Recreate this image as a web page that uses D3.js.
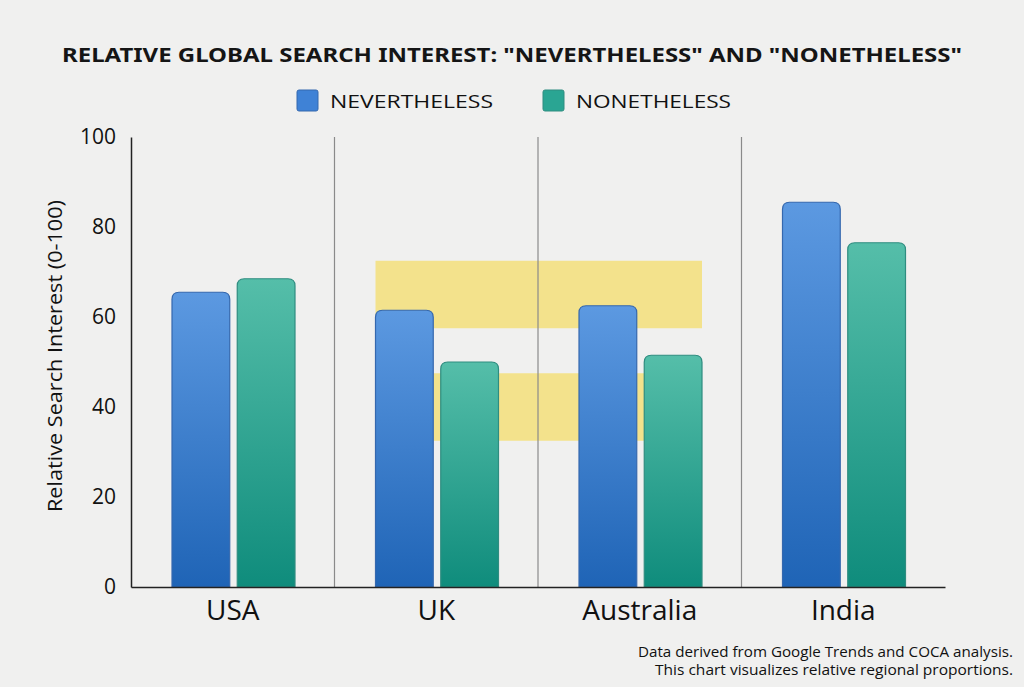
<!DOCTYPE html>
<html>
<head>
<meta charset="utf-8">
<script src="https://cdn.jsdelivr.net/npm/d3@7"></script>
<style>
  html, body { margin: 0; padding: 0; background: #f0f0ef; }
  svg { display: block; }
</style>
</head>
<body>
<div id="chart"></div>
<script>
// data
var regions = ["USA", "UK", "Australia", "India"];
var series = ["NEVERTHELESS", "NONETHELESS"];
var nevertheless = [65.5, 61.5, 62.5, 85.5];
var nonetheless = [68.5, 50, 51.5, 76.5];
var yTicks = [0, 20, 40, 60, 80, 100];
// highlight bands: [low, high] in search-interest units
var highlightBands = [[57.5, 72.5], [32.5, 47.5]];

var width = 1024, height = 687;
var margin = {left: 131, right: 79, top: 137, bottom: 100};

var svg = d3.select("#chart").append("svg")
    .attr("width", width)
    .attr("height", height)
    .style("background", "#f0f0ef");

var defs = svg.append("defs");
function grad(id, top, bottom) {
  var g = defs.append("linearGradient").attr("id", id)
      .attr("x1", 0).attr("y1", 0).attr("x2", 0).attr("y2", 1);
  g.append("stop").attr("offset", "0%").attr("stop-color", top);
  g.append("stop").attr("offset", "100%").attr("stop-color", bottom);
}
grad("gBlue", "#5c99e1", "#1f64b6");
grad("gTeal", "#55bea9", "#0f8c7c");

var fills = {"NEVERTHELESS": "url(#gBlue)", "NONETHELESS": "url(#gTeal)"};
var strokes = {"NEVERTHELESS": "#3568ae", "NONETHELESS": "#2f8d80"};
var swatch = {"NEVERTHELESS": "#3f82d6", "NONETHELESS": "#2aa593"};

var x = d3.scaleBand().domain(regions).range([margin.left, width - margin.right]).padding(0);
var xSub = d3.scaleBand().domain(series).range([41, 164]).paddingInner(0.115);
var y = d3.scaleLinear().domain([0, 100]).range([height - margin.bottom, margin.top]);

var rows = regions.map((r, i) => ({region: r, values: [
  {key: "NEVERTHELESS", value: nevertheless[i]},
  {key: "NONETHELESS", value: nonetheless[i]}
]}));

// title
svg.append("text")
    .attr("x", 512).attr("y", 62)
    .attr("text-anchor", "middle")
    .style("font-family", "'Noto Sans', sans-serif")
    .style("font-weight", "bold")
    .style("font-size", "19.5px")
    .attr("fill", "#151515")
    .attr("textLength", 900)
    .attr("lengthAdjust", "spacingAndGlyphs")
    .text('RELATIVE GLOBAL SEARCH INTEREST: "NEVERTHELESS" AND "NONETHELESS"');

// legend
var legendX = [297, 543];
var legendTextW = [163, 155];
var legend = svg.append("g").selectAll("g").data(series).join("g")
    .attr("transform", (d, i) => `translate(${legendX[i]},90)`);
legend.append("rect")
    .attr("width", 21).attr("height", 21).attr("rx", 2)
    .attr("fill", d => swatch[d])
    .attr("stroke", d => strokes[d]).attr("stroke-width", 1);
legend.append("text")
    .attr("x", 33).attr("y", 18)
    .style("font-family", "'Open Sans', sans-serif")
    .style("font-size", "18px")
    .attr("fill", "#111")
    .attr("textLength", (d, i) => legendTextW[i])
    .attr("lengthAdjust", "spacingAndGlyphs")
    .text(d => d);

// highlight bands (UK to Australia)
var hlX = [
  [x("UK") + xSub("NEVERTHELESS"), x("Australia") + xSub("NONETHELESS") + xSub.bandwidth()],
  [x("UK") + xSub("NEVERTHELESS") + xSub.bandwidth(), x("Australia") + xSub("NONETHELESS")]
];
svg.append("g").selectAll("rect").data(highlightBands).join("rect")
    .attr("x", (d, i) => hlX[i][0])
    .attr("width", (d, i) => hlX[i][1] - hlX[i][0])
    .attr("y", d => y(d[1]))
    .attr("height", d => y(d[0]) - y(d[1]))
    .attr("fill", "#f3e28c");

// dividers between regions
svg.append("g").selectAll("line").data(regions.slice(1)).join("line")
    .attr("x1", d => x(d)).attr("x2", d => x(d))
    .attr("y1", y(100)).attr("y2", y(0))
    .attr("stroke", "#8a8a8a").attr("stroke-width", 1.2);

// bars, rounded at the top
function barPath(x0, w, y0, y1, r) {
  return `M${x0},${y1} V${y0 + r} Q${x0},${y0} ${x0 + r},${y0} H${x0 + w - r} Q${x0 + w},${y0} ${x0 + w},${y0 + r} V${y1} Z`;
}
var groups = svg.append("g").selectAll("g").data(rows).join("g")
    .attr("transform", d => `translate(${x(d.region)},0)`);
groups.selectAll("path").data(d => d.values).join("path")
    .attr("d", d => barPath(xSub(d.key), xSub.bandwidth(), y(d.value), y(0), 7))
    .attr("fill", d => fills[d.key])
    .attr("stroke", d => strokes[d.key])
    .attr("stroke-width", 1.2);

// axes
var yAxis = svg.append("g")
    .attr("transform", `translate(${margin.left},0)`)
    .call(d3.axisLeft(y).tickValues(yTicks).tickSize(0).tickPadding(15));
yAxis.select(".domain").attr("stroke", "#222").attr("stroke-width", 1.5);
yAxis.selectAll("text")
    .style("font-family", "'Open Sans', sans-serif")
    .style("font-size", "21px")
    .attr("fill", "#111");

var xAxis = svg.append("g")
    .attr("transform", `translate(0,${y(0)})`)
    .call(d3.axisBottom(x).tickSize(0).tickPadding(13));
xAxis.select(".domain").attr("stroke", "#222").attr("stroke-width", 1.5);
xAxis.selectAll("text")
    .attr("dy", "0.71em")
    .style("font-family", "'Open Sans', sans-serif")
    .style("font-size", "28px")
    .attr("fill", "#111");

// y label
svg.append("text")
    .attr("transform", "translate(62,356) rotate(-90)")
    .attr("text-anchor", "middle")
    .style("font-family", "'Open Sans', sans-serif")
    .style("font-size", "20px")
    .attr("fill", "#111")
    .attr("textLength", 312)
    .attr("lengthAdjust", "spacingAndGlyphs")
    .text("Relative Search Interest (0-100)");

// footer note
var notes = ["Data derived from Google Trends and COCA analysis.",
             "This chart visualizes relative regional proportions."];
var noteW = [375, 358];
svg.append("g").selectAll("text").data(notes).join("text")
    .attr("x", 1013)
    .attr("y", (d, i) => 657 + i * 18)
    .attr("text-anchor", "end")
    .style("font-family", "'Open Sans', sans-serif")
    .style("font-size", "14.5px")
    .attr("fill", "#111")
    .attr("textLength", (d, i) => noteW[i])
    .attr("lengthAdjust", "spacingAndGlyphs")
    .text(d => d);
</script>
</body>
</html>
